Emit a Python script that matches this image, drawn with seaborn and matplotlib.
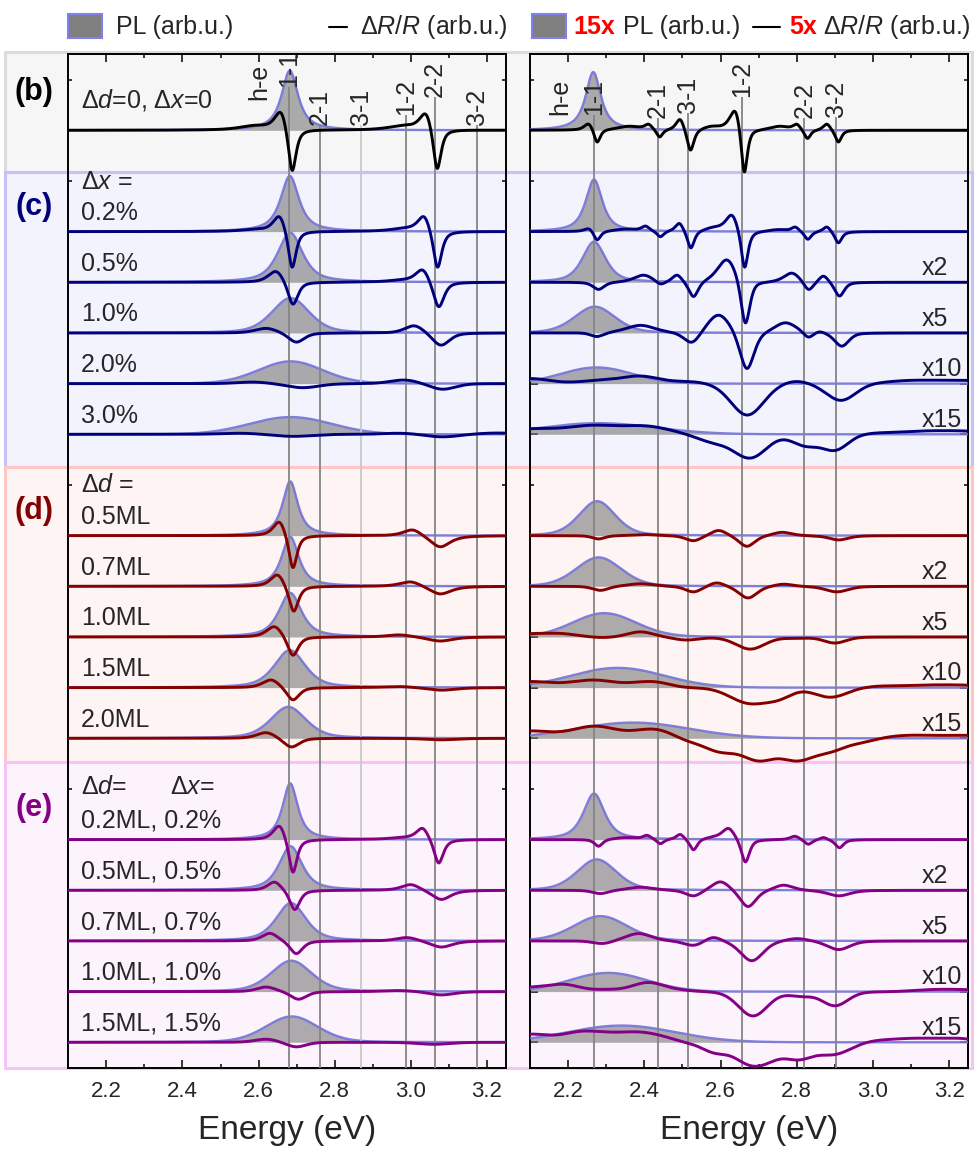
import numpy as np
import matplotlib
matplotlib.use("Agg")
import matplotlib.pyplot as plt
from matplotlib.patches import Rectangle
from matplotlib.lines import Line2D
import seaborn as sns

# ---------------------------------------------------------------- data
E_MIN, E_MAX = 2.1, 3.25

TRANS_LABELS = ["1-1", "2-1", "3-1", "1-2", "2-2", "3-2"]
TRANS_LEFT = [2.681, 2.760, 2.869, 2.987, 3.064, 3.174]
TRANS_RIGHT = [2.267, 2.436, 2.514, 2.656, 2.820, 2.902]
TOP_LEFT = [18.86, 18.10, 18.10, 18.30, 18.65, 18.10]
TOP_RIGHT = [18.30, 18.24, 18.34, 18.65, 18.24, 18.26]
HE_LEFT = (2.602, 18.60)
HE_RIGHT = (2.180, 18.30)

# vertical offsets of the stacked traces
OFF_B = [18]
OFF_C = [16, 15, 14, 13, 12]
OFF_D = [10, 9, 8, 7, 6]
OFF_E = [4, 3, 2, 1, 0]
MINOR_Y = [19, 17, 11, 5]

LABELS_C = ["0.2%", "0.5%", "1.0%", "2.0%", "3.0%"]
LABELS_D = ["0.5ML", "0.7ML", "1.0ML", "1.5ML", "2.0ML"]
LABELS_E = ["0.2ML, 0.2%", "0.5ML, 0.5%", "0.7ML, 0.7%", "1.0ML, 1.0%", "1.5ML, 1.5%"]
GAIN_LABELS = ["", "x2", "x5", "x10", "x15"]

# PL peaks: (centre eV, height, half width eV, Lorentz fraction)
PL_L_B = [(2.682, 1.18, 0.026, 0.9)]
PL_L_C = [(2.682, 1.10, 0.029, 0.85), (2.683, 0.98, 0.039, 0.7), (2.684, 0.69, 0.058, 0.4),
          (2.684, 0.44, 0.100, 0.1), (2.684, 0.34, 0.127, 0.0)]
PL_L_D = [(2.683, 1.07, 0.024, 0.85), (2.683, 0.98, 0.027, 0.8), (2.683, 0.87, 0.035, 0.7),
          (2.682, 0.74, 0.048, 0.55), (2.678, 0.62, 0.055, 0.45)]
PL_L_E = [(2.683, 1.11, 0.024, 0.85), (2.684, 0.87, 0.036, 0.7), (2.685, 0.75, 0.046, 0.55),
          (2.686, 0.61, 0.063, 0.35), (2.687, 0.51, 0.081, 0.2)]
PL_R_B = [(2.266, 1.15, 0.024, 0.9)]
PL_R_C = [(2.268, 1.03, 0.026, 0.8), (2.268, 0.80, 0.036, 0.6), (2.270, 0.52, 0.063, 0.3),
          (2.275, 0.32, 0.110, 0.0), (2.280, 0.22, 0.175, 0.0)]
PL_R_D = [(2.276, 0.68, 0.056, 0.3), (2.280, 0.57, 0.070, 0.2), (2.295, 0.47, 0.098, 0.1),
          (2.330, 0.39, 0.144, 0.0), (2.370, 0.31, 0.175, 0.0)]
PL_R_E = [(2.268, 0.91, 0.033, 0.7), (2.275, 0.61, 0.061, 0.3), (2.285, 0.49, 0.083, 0.2),
          (2.305, 0.37, 0.120, 0.0), (2.340, 0.33, 0.166, 0.0)]

# dR/R: points (energy eV, value, half width eV) the trace passes through
DR_L_B = [[(2.59, 0.10, 0.05), (2.659, 0.34, 0.02), (2.688, -0.79, 0.0125),
           (2.98, 0.10, 0.05), (3.040, 0.31, 0.02), (3.069, -0.75, 0.0125)]]
DR_L_C = [
    [(2.59, 0.05, 0.05), (2.655, 0.29, 0.02), (2.688, -0.70, 0.0125),
     (2.985, 0.08, 0.05), (3.035, 0.29, 0.02), (3.070, -0.70, 0.0135)],
    [(2.646, 0.21, 0.025), (2.690, -0.43, 0.016), (2.98, 0.06, 0.05),
     (3.031, 0.24, 0.022), (3.073, -0.48, 0.017)],
    [(2.620, 0.09, 0.035), (2.699, -0.18, 0.025), (3.009, 0.14, 0.03), (3.079, -0.24, 0.027)],
    [(2.585, 0.03, 0.05), (2.716, -0.08, 0.05), (2.983, 0.07, 0.045), (3.083, -0.11, 0.04)],
    [(2.55, 0.02, 0.06), (2.69, -0.04, 0.06), (2.97, 0.02, 0.05), (3.083, -0.05, 0.05),
     (3.23, 0.025, 0.06)],
]
DR_L_D = [
    [(2.655, 0.26, 0.02), (2.690, -0.63, 0.013), (3.005, 0.11, 0.03), (3.077, -0.22, 0.032)],
    [(2.650, 0.22, 0.022), (2.692, -0.49, 0.015), (3.000, 0.085, 0.035), (3.077, -0.15, 0.035)],
    [(2.642, 0.20, 0.025), (2.690, -0.36, 0.017), (2.970, 0.04, 0.04), (3.077, -0.08, 0.04)],
    [(2.633, 0.15, 0.027), (2.690, -0.24, 0.02), (2.970, 0.02, 0.05), (3.080, -0.05, 0.045)],
    [(2.620, 0.11, 0.03), (2.686, -0.17, 0.025), (3.080, -0.03, 0.05)],
]
DR_L_E = [
    [(2.655, 0.26, 0.02), (2.690, -0.64, 0.013), (2.98, 0.05, 0.05),
     (3.031, 0.22, 0.02), (3.073, -0.46, 0.015)],
    [(2.642, 0.16, 0.022), (2.695, -0.38, 0.016), (3.000, 0.11, 0.03), (3.080, -0.18, 0.03)],
    [(2.630, 0.15, 0.025), (2.699, -0.25, 0.02), (2.990, 0.065, 0.035), (3.080, -0.12, 0.035)],
    [(2.620, 0.09, 0.03), (2.705, -0.15, 0.025), (2.970, 0.02, 0.05), (3.080, -0.065, 0.04)],
    [(2.620, 0.06, 0.035), (2.699, -0.09, 0.03), (3.060, -0.04, 0.05)],
]
DR_R_B = [[(2.254, 0.12, 0.014), (2.276, -0.23, 0.010), (2.36, 0.08, 0.04),
           (2.411, 0.12, 0.012), (2.440, -0.13, 0.010), (2.494, 0.21, 0.013),
           (2.521, -0.39, 0.011), (2.575, 0.08, 0.03), (2.639, 0.36, 0.018),
           (2.662, -0.82, 0.010), (2.755, 0.08, 0.03), (2.800, 0.12, 0.012),
           (2.828, -0.16, 0.010), (2.879, 0.12, 0.012), (2.909, -0.23, 0.010)]]
DR_R_C = [
    [(2.255, 0.05, 0.015), (2.276, -0.16, 0.011), (2.35, 0.05, 0.04), (2.403, 0.11, 0.013),
     (2.442, -0.10, 0.011), (2.492, 0.16, 0.013), (2.522, -0.32, 0.011), (2.58, 0.09, 0.03),
     (2.630, 0.32, 0.02), (2.663, -0.70, 0.011), (2.75, 0.04, 0.03), (2.796, 0.09, 0.012),
     (2.829, -0.15, 0.011), (2.879, 0.09, 0.012), (2.909, -0.22, 0.011)],
    [(2.280, -0.14, 0.018), (2.398, 0.14, 0.03), (2.442, -0.03, 0.015), (2.486, 0.14, 0.015),
     (2.529, -0.28, 0.015), (2.617, 0.44, 0.03), (2.665, -0.80, 0.014), (2.787, 0.18, 0.025),
     (2.831, -0.14, 0.015), (2.870, 0.12, 0.015), (2.912, -0.27, 0.015)],
    [(2.276, -0.07, 0.02), (2.39, 0.15, 0.045), (2.525, -0.18, 0.025), (2.595, 0.35, 0.035),
     (2.669, -0.70, 0.022), (2.77, 0.20, 0.035), (2.83, -0.08, 0.015), (2.86, 0.02, 0.015),
     (2.918, -0.26, 0.022)],
    [(2.10, 0.10, 0.06), (2.28, 0.07, 0.06), (2.39, 0.15, 0.06), (2.52, 0.04, 0.05),
     (2.67, -0.62, 0.05), (2.796, 0.04, 0.04), (2.916, -0.33, 0.045), (3.10, 0.065, 0.08),
     (3.24, 0.065, 0.08)],
    [(2.10, 0.11, 0.08), (2.266, 0.18, 0.08), (2.407, 0.165, 0.07), (2.582, -0.18, 0.05),
     (2.678, -0.47, 0.05), (2.822, -0.24, 0.04), (2.90, -0.32, 0.04), (3.02, 0.03, 0.05),
     (3.13, 0.065, 0.07), (3.24, 0.065, 0.07)],
]
DR_R_D = [
    [(2.280, -0.065, 0.02), (2.40, 0.02, 0.04), (2.529, -0.10, 0.025), (2.595, 0.10, 0.025),
     (2.669, -0.21, 0.025), (2.761, 0.065, 0.03), (2.910, -0.085, 0.03)],
    [(2.285, -0.08, 0.025), (2.39, 0.05, 0.04), (2.529, -0.11, 0.025), (2.590, 0.065, 0.025),
     (2.672, -0.23, 0.028), (2.765, 0.04, 0.03), (2.905, -0.11, 0.035)],
    [(2.10, 0.065, 0.05), (2.18, 0.07, 0.05), (2.29, -0.01, 0.04), (2.39, 0.10, 0.04),
     (2.51, -0.06, 0.04), (2.678, -0.24, 0.045), (2.80, -0.03, 0.03), (2.90, -0.12, 0.035)],
    [(2.10, 0.12, 0.07), (2.266, 0.15, 0.07), (2.42, 0.12, 0.06), (2.495, 0.02, 0.04),
     (2.678, -0.32, 0.06), (2.757, -0.24, 0.04), (2.888, -0.19, 0.05), (3.019, 0.03, 0.05),
     (3.13, 0.05, 0.07), (3.24, 0.05, 0.07)],
    [(2.10, 0.145, 0.07), (2.27, 0.24, 0.07), (2.424, 0.18, 0.06), (2.512, -0.05, 0.04),
     (2.60, -0.28, 0.05), (2.70, -0.45, 0.05), (2.80, -0.45, 0.05), (2.888, -0.28, 0.05),
     (2.975, -0.085, 0.04), (3.10, 0.06, 0.07), (3.24, 0.06, 0.07)],
]
DR_R_E = [
    [(2.280, -0.13, 0.013), (2.35, 0.04, 0.04), (2.407, 0.085, 0.013), (2.442, -0.08, 0.011),
     (2.494, 0.10, 0.013), (2.529, -0.20, 0.012), (2.58, 0.06, 0.03), (2.621, 0.22, 0.02),
     (2.665, -0.44, 0.013), (2.795, 0.065, 0.015), (2.83, -0.09, 0.012), (2.87, 0.04, 0.012),
     (2.912, -0.16, 0.013)],
    [(2.285, -0.065, 0.025), (2.39, 0.06, 0.04), (2.529, -0.11, 0.025), (2.600, 0.165, 0.028),
     (2.672, -0.32, 0.025), (2.765, 0.10, 0.03), (2.910, -0.11, 0.035)],
    [(2.29, -0.05, 0.03), (2.385, 0.145, 0.04), (2.529, -0.085, 0.03), (2.58, 0.065, 0.025),
     (2.682, -0.39, 0.035), (2.80, 0.045, 0.035), (2.91, -0.17, 0.035)],
    [(2.10, 0.09, 0.05), (2.189, 0.145, 0.05), (2.30, 0.045, 0.04), (2.41, 0.18, 0.05),
     (2.494, 0.045, 0.04), (2.685, -0.48, 0.045), (2.81, -0.10, 0.035), (2.90, -0.28, 0.04),
     (3.05, 0.0, 0.05), (3.15, 0.04, 0.07), (3.24, 0.04, 0.07)],
    [(2.10, 0.16, 0.06), (2.237, 0.22, 0.06), (2.324, 0.20, 0.05), (2.394, 0.20, 0.05),
     (2.455, 0.11, 0.04), (2.516, -0.02, 0.04), (2.586, -0.22, 0.04), (2.673, -0.45, 0.045),
     (2.726, -0.41, 0.04), (2.804, -0.35, 0.045), (2.892, -0.25, 0.045), (2.936, -0.15, 0.04),
     (3.023, 0.045, 0.05), (3.11, 0.08, 0.06), (3.22, 0.08, 0.06)],
]

# Lorentz fraction of the dR/R line shape for every trace
ETA_L_B = [0.8]
ETA_L_C = [0.8, 0.7, 0.5, 0.2, 0.0]
ETA_L_D = [0.8, 0.75, 0.7, 0.6, 0.5]
ETA_L_E = [0.8, 0.7, 0.6, 0.45, 0.3]
ETA_R_B = [0.8]
ETA_R_C = [0.8, 0.6, 0.4, 0.1, 0.0]
ETA_R_D = [0.5, 0.4, 0.2, 0.0, 0.0]
ETA_R_E = [0.7, 0.5, 0.3, 0.1, 0.0]

COL_B, COL_C, COL_D, COL_E = "#000000", "#00007a", "#850000", "#840084"

# ---------------------------------------------------------------- style
sns.set_style("ticks")
plt.rcParams["font.family"] = ["Liberation Sans", "DejaVu Sans"]
plt.rcParams["mathtext.fontset"] = "custom"
plt.rcParams["mathtext.rm"] = "Liberation Sans"
plt.rcParams["mathtext.it"] = "Liberation Sans:italic"
plt.rcParams["mathtext.bf"] = "Liberation Sans:bold"

W, H = 977, 1151
fig = plt.figure(figsize=(W / 100, H / 100), dpi=100)


def fx(px):
    return px / W


def fy(py):
    return 1 - py / H


# coloured group backgrounds
for top, bot, fc, ec in [(52, 172, "#f6f6f6", "#dcdcdc"),
                         (172, 467, "#f3f3fe", "#c3c3fa"),
                         (467, 762, "#fdf4f3", "#ffc6c6"),
                         (762, 1068, "#fdf3fd", "#f5c3f5")]:
    fig.add_artist(Rectangle((fx(5), fy(bot)), fx(972) - fx(5), fy(top) - fy(bot),
                             transform=fig.transFigure, facecolor=fc, edgecolor=ec,
                             linewidth=2.2, zorder=-10))

ax_l = fig.add_axes([fx(68.3), fy(1067.6), fx(437.7), 1013.3 / H])
ax_r = fig.add_axes([fx(530.0), fy(1067.6), fx(438.3), 1013.3 / H])

E = np.linspace(E_MIN, E_MAX, 1500)


def peak(x, c, w, eta):
    u = (x - c) / w
    return eta / (1 + u ** 2) + (1 - eta) * np.exp(-np.log(2) * u ** 2)


def dr_trace(x, pts, eta):
    c = np.array([p[0] for p in pts])
    v = np.array([p[1] for p in pts])
    w = np.array([p[2] for p in pts])
    M = peak(c[:, None], c[None, :], w[None, :], eta)
    amp = np.linalg.solve(M, v)
    return (amp[None, :] * peak(x[:, None], c[None, :], w[None, :], eta)).sum(axis=1)


def draw_group(ax, offsets, pls, drs, etas, color):
    for y0, (pc, ph, pw, pe), pts, eta in zip(offsets, pls, drs, etas):
        pl = y0 + ph * peak(E, pc, pw, pe)
        ax.fill_between(E, y0, pl, color="#808080", alpha=0.64, linewidth=0, zorder=2)
        sns.lineplot(x=E, y=pl, ax=ax, color="#7272d8", linewidth=1.7, alpha=0.9, zorder=3)
        sns.lineplot(x=E, y=y0 + dr_trace(E, pts, eta), ax=ax, color=color,
                     linewidth=2.1, zorder=5)


draw_group(ax_l, OFF_B, PL_L_B, DR_L_B, ETA_L_B, COL_B)
draw_group(ax_l, OFF_C, PL_L_C, DR_L_C, ETA_L_C, COL_C)
draw_group(ax_l, OFF_D, PL_L_D, DR_L_D, ETA_L_D, COL_D)
draw_group(ax_l, OFF_E, PL_L_E, DR_L_E, ETA_L_E, COL_E)
draw_group(ax_r, OFF_B, PL_R_B, DR_R_B, ETA_R_B, COL_B)
draw_group(ax_r, OFF_C, PL_R_C, DR_R_C, ETA_R_C, COL_C)
draw_group(ax_r, OFF_D, PL_R_D, DR_R_D, ETA_R_D, COL_D)
draw_group(ax_r, OFF_E, PL_R_E, DR_R_E, ETA_R_E, COL_E)

# transition markers
for ax, trans, tops, he in [(ax_l, TRANS_LEFT, TOP_LEFT, HE_LEFT),
                            (ax_r, TRANS_RIGHT, TOP_RIGHT, HE_RIGHT)]:
    for e0, top, lab in zip(trans, tops, TRANS_LABELS):
        faint = ax is ax_l and lab == "3-1"
        ax.vlines(e0, -0.5, top, color="#c8c8c8" if faint else "#858585",
                  linewidth=1.3, zorder=4)
        ax.text(e0, top, lab, rotation=90, ha="center", va="bottom", fontsize=18, zorder=6)
    ax.text(he[0], he[1], "h-e", rotation=90, ha="center", va="bottom", fontsize=18, zorder=6)

# row annotations, left column
XL = 2.133
ax_l.text(XL, 18.6, r"Δ$\mathit{d}$=0, Δ$\mathit{x}$=0", fontsize=18, va="center")
ax_l.text(XL, 16.97, r"Δ$\mathit{x}$ =", fontsize=18, va="center")
ax_l.text(XL, 11.0, r"Δ$\mathit{d}$ =", fontsize=18, va="center")
ax_l.text(XL, 5.04, r"Δ$\mathit{d}$=", fontsize=18, va="center")
ax_l.text(2.366, 5.04, r"Δ$\mathit{x}$=", fontsize=18, va="center")
for offs, labs in [(OFF_C, LABELS_C), (OFF_D, LABELS_D), (OFF_E, LABELS_E)]:
    for y0, lab in zip(offs, labs):
        ax_l.text(XL, y0 + 0.37, lab, fontsize=18, va="center")

# scale factors, right column
for offs in (OFF_C, OFF_D, OFF_E):
    for y0, lab in zip(offs, GAIN_LABELS):
        if lab:
            ax_r.text(3.129, y0 + 0.28, lab, fontsize=18, va="center")

for ax in (ax_l, ax_r):
    ax.set_facecolor("none")
    ax.set_xlim(E_MIN, E_MAX)
    ax.set_ylim(-0.5, 19.5)
    ax.set_xticks([2.2, 2.4, 2.6, 2.8, 3.0, 3.2])
    ax.set_xticks([2.3, 2.5, 2.7, 2.9, 3.1], minor=True)
    ax.set_yticks(OFF_B + OFF_C + OFF_D + OFF_E)
    ax.set_yticks(MINOR_Y, minor=True)
    ax.set_yticklabels([])
    ax.tick_params(which="both", direction="in", top=True, right=True,
                   width=1.1, color="black")
    ax.tick_params(which="major", length=6)
    ax.tick_params(which="minor", length=3)
    ax.tick_params(axis="x", which="major", labelsize=16, pad=10)
    ax.set_xlabel("Energy (eV)", fontsize=24, labelpad=9)
    for s in ax.spines.values():
        s.set_visible(True)
        s.set_linewidth(1.4)
        s.set_color("black")

# group tags
for ypx, tag, col in [(92, "(b)", COL_B), (207, "(c)", COL_C),
                      (511, "(d)", COL_D), (808, "(e)", COL_E)]:
    fig.text(fx(34), fy(ypx), tag, fontsize=22, fontweight="bold", color=col,
             ha="center", va="center")

# legend row
LY = fy(27)
fig.add_artist(Rectangle((fx(68), fy(38)), fx(34), 24 / H, transform=fig.transFigure,
                         facecolor="#808080", edgecolor="#8080f0", linewidth=1.5))
fig.text(fx(116), LY, "PL (arb.u.)", fontsize=18, va="center")
fig.add_artist(Line2D([fx(329), fx(347)], [LY, LY], transform=fig.transFigure,
                      color="black", linewidth=1.5))
fig.text(fx(360), LY, r"Δ$\mathit{R}$/$\mathit{R}$ (arb.u.)", fontsize=18, va="center")

fig.add_artist(Rectangle((fx(532), fy(38)), fx(34), 24 / H, transform=fig.transFigure,
                         facecolor="#808080", edgecolor="#8080f0", linewidth=1.5))
fig.text(fx(573), LY, "15x", fontsize=18, fontweight="bold", color="#ff0000", va="center")
fig.text(fx(623), LY, "PL (arb.u.)", fontsize=18, va="center")
fig.add_artist(Line2D([fx(753), fx(780)], [LY, LY], transform=fig.transFigure,
                      color="black", linewidth=1.5))
fig.text(fx(789), LY, "5x", fontsize=18, fontweight="bold", color="#ff0000", va="center")
fig.text(fx(823), LY, r"Δ$\mathit{R}$/$\mathit{R}$ (arb.u.)", fontsize=18, va="center")

fig.savefig("out.png", dpi=100)
